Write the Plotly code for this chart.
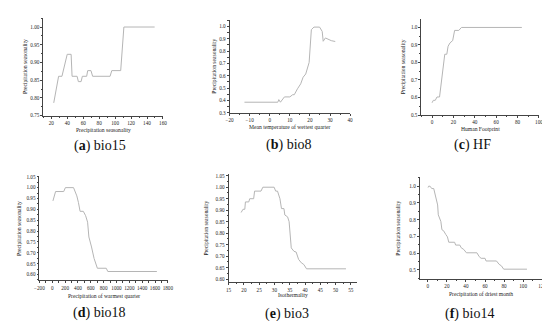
import plotly.graph_objects as go

W, H = 550, 321

# ---------------- data ----------------
a_x = [23, 29.1, 33.3, 36.5, 39.9, 44.8, 46, 52.3, 53.9, 57.3, 58.9, 64.3, 65.6, 69.7, 71.8, 93.7, 95.8, 107, 111, 149.6]
a_y = [0.786, 0.861, 0.861, 0.890, 0.923, 0.923, 0.861, 0.861, 0.846, 0.846, 0.861, 0.861, 0.877, 0.877, 0.861, 0.861, 0.877, 0.877, 1.0, 1.0]

b_x = [-12.6, 4.0, 4.5, 5.3, 7.3, 10.0, 11.4, 12.2, 13.8, 15.4, 16.6, 17.9, 19.6, 20.7, 22.0, 24.8, 26.1, 26.6, 27.7, 29.4, 30.6, 32.6]
b_y = [0.385, 0.385, 0.406, 0.385, 0.428, 0.428, 0.446, 0.446, 0.494, 0.534, 0.588, 0.614, 0.708, 0.974, 0.995, 0.995, 0.96, 0.88, 0.907, 0.89, 0.885, 0.878]

c_x = [0, 1.2, 3, 4.6, 7, 8.8, 10.6, 11.9, 13.8, 15, 16.8, 19.3, 21.1, 25, 27.5, 84]
c_y = [0.570, 0.584, 0.584, 0.603, 0.603, 0.697, 0.762, 0.847, 0.847, 0.893, 0.912, 0.925, 0.983, 0.983, 1.0, 1.0]

d_x = [10, 51, 178, 204, 331, 382, 407, 433, 483, 519, 550, 570, 611, 651, 702, 840, 865, 1629]
d_y = [0.939, 0.982, 0.982, 1.0, 1.0, 0.962, 0.932, 0.891, 0.891, 0.871, 0.841, 0.773, 0.727, 0.674, 0.629, 0.629, 0.614, 0.614]

e_x = [19.1, 19.7, 20.3, 20.5, 21.6, 21.9, 23.2, 23.5, 25.6, 26.2, 29.9, 30.4, 31.0, 31.8, 32.3, 33.1, 33.4, 34.3, 34.8, 35.5, 36.4, 37.1, 37.9, 38.8, 39.6, 40.5, 53.4]
e_y = [0.890, 0.904, 0.904, 0.936, 0.936, 0.95, 0.95, 0.983, 0.983, 1.0, 1.0, 0.983, 0.983, 0.95, 0.907, 0.907, 0.879, 0.871, 0.85, 0.736, 0.721, 0.718, 0.686, 0.671, 0.664, 0.645, 0.645]

f_x = [0.3, 0.8, 2.4, 4.1, 6.2, 7.5, 9.3, 10.3, 11.0, 12.7, 13.7, 14.8, 16.5, 18.9, 20.6, 22, 28.1, 29.2, 33.6, 35, 37.7, 40.5, 51.5, 53.9, 55.9, 60, 61.1, 72, 74.8, 77.2, 79.6, 104]
f_y = [0.992, 1.0, 1.0, 0.986, 0.986, 0.957, 0.927, 0.888, 0.829, 0.80, 0.789, 0.74, 0.734, 0.711, 0.697, 0.665, 0.665, 0.648, 0.648, 0.632, 0.622, 0.602, 0.602, 0.579, 0.569, 0.569, 0.553, 0.553, 0.533, 0.524, 0.504, 0.504]

y_title = "Precipitation seasonality"
x_titles = ["Precipitation seasonality", "Mean temperature of wettest quarter", "Human Footprint",
            "Precipitation of warmest quarter", "Isothermality", "Precipitation of driest month"]
captions = ["(<b>a</b>) bio15", "(<b>b</b>) bio8", "(<b>c</b>) HF",
            "(<b>d</b>) bio18", "(<b>e</b>) bio3", "(<b>f</b>) bio14"]

series = [(a_x, a_y), (b_x, b_y), (c_x, c_y), (d_x, d_y), (e_x, e_y), (f_x, f_y)]

# ---------------- layout geometry (pixels) ----------------
boxes = [(31, 153, 8.3, 107.3), (221, 344, 10, 104.3), (416.7, 536.7, 9, 106.7),
         (27, 158, 168.3, 274.7), (220, 351, 166.7, 276.7), (415, 541, 170, 273.3)]
xranges = [[10, 160], [-20, 40], [-10, 100], [-200, 1800], [15, 57], [-8.5, 121]]
yranges = [[0.75, 1.025], [0.3, 1.054], [0.5, 1.049], [0.573, 1.055], [0.586, 1.057], [0.445, 1.053]]
xdticks = [20, 10, 20, 200, 5, 20]
ydticks = [0.05, 0.1, 0.1, 0.05, 0.05, 0.1]
yfmts = [".2f", ".1f", ".1f", ".2f", ".2f", ".1f"]
ytitle_x = [12.3, 205.5, 398.3, 6, 197.3, 393.3]
xtitle_y = [121.8, 119, 121, 291, 289.5, 289]
cap_pos = [(89, 138.3), (281.7, 136.7), (469.3, 137.3), (88.3, 308.3), (280, 309), (465.7, 309)]

LINE = "#b5b5b5"
AX = "#444444"
SERIF = "Liberation Serif, Times New Roman, serif"

fig = go.Figure()
annotations = []
layout = {}
for i, ((xs, ys), (l, r, t, b)) in enumerate(zip(series, boxes)):
    n = "" if i == 0 else str(i + 1)
    fig.add_trace(go.Scatter(x=xs, y=ys, mode="lines", line=dict(color=LINE, width=1),
                             xaxis="x" + n, yaxis="y" + n, showlegend=False, hoverinfo="skip"))
    common = dict(showgrid=False, zeroline=False, showline=True, linecolor=AX, linewidth=0.8,
                  ticks="outside", ticklen=2, tickwidth=0.6, tickcolor=AX, tickangle=0,
                  tickfont=dict(family=SERIF, size=5.2, color="#222"))
    layout["xaxis" + n] = dict(common, domain=[l / W, r / W], range=xranges[i], anchor="y" + n,
                               tick0=0, dtick=xdticks[i],
                               minor=dict(ticks="outside", ticklen=1.2, tickcolor=AX, tickwidth=0.5,
                                          dtick=xdticks[i] / 2))
    layout["yaxis" + n] = dict(common, domain=[1 - b / H, 1 - t / H], range=yranges[i], anchor="x" + n,
                               tick0=0, dtick=ydticks[i], tickformat=yfmts[i],
                               minor=dict(ticks="outside", ticklen=1.2, tickcolor=AX, tickwidth=0.5,
                                          dtick=ydticks[i] / 2))
    annotations.append(dict(text=y_title, x=ytitle_x[i] / W, y=1 - ((t + b) / 2) / H,
                            xref="paper", yref="paper", textangle=-90, showarrow=False,
                            font=dict(family=SERIF, size=5.6, color="#222"),
                            xanchor="center", yanchor="middle"))
    annotations.append(dict(text=x_titles[i], x=((l + r) / 2) / W, y=1 - xtitle_y[i] / H,
                            xref="paper", yref="paper", showarrow=False,
                            font=dict(family=SERIF, size=5.6, color="#222"),
                            xanchor="center", yanchor="middle"))
    cx, cy = cap_pos[i]
    annotations.append(dict(text=captions[i], x=cx / W, y=1 - cy / H, xref="paper", yref="paper",
                            showarrow=False, font=dict(family=SERIF, size=14, color="#111"),
                            xanchor="center", yanchor="middle"))

fig.update_layout(width=W, height=H, autosize=False, margin=dict(l=0, r=0, t=0, b=0),
                  paper_bgcolor="white", plot_bgcolor="white", annotations=annotations, **layout)
fig.write_html("out.html")
